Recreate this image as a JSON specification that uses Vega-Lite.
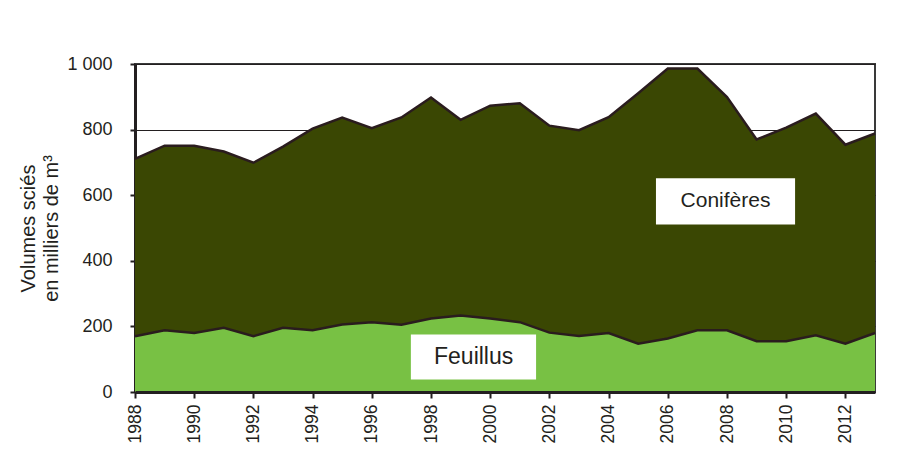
{
  "$schema": "https://vega.github.io/schema/vega-lite/v6.json",
  "width": 740,
  "height": 328,
  "autosize": "none",
  "padding": {"left": 135, "top": 64, "right": 31, "bottom": 84},
  "background": "white",
  "config": {
    "font": "Liberation Sans",
    "view": {"stroke": "#3a3a3a", "strokeWidth": 2}
  },
  "datasets": {
    "volumes": [
      {"year": 1988, "type": "Feuillus", "value": 170}, {"year": 1988, "type": "Conifères", "value": 541},
      {"year": 1989, "type": "Feuillus", "value": 188}, {"year": 1989, "type": "Conifères", "value": 563},
      {"year": 1990, "type": "Feuillus", "value": 180}, {"year": 1990, "type": "Conifères", "value": 571},
      {"year": 1991, "type": "Feuillus", "value": 196}, {"year": 1991, "type": "Conifères", "value": 537},
      {"year": 1992, "type": "Feuillus", "value": 170}, {"year": 1992, "type": "Conifères", "value": 529},
      {"year": 1993, "type": "Feuillus", "value": 196}, {"year": 1993, "type": "Conifères", "value": 552},
      {"year": 1994, "type": "Feuillus", "value": 188}, {"year": 1994, "type": "Conifères", "value": 615},
      {"year": 1995, "type": "Feuillus", "value": 206}, {"year": 1995, "type": "Conifères", "value": 631},
      {"year": 1996, "type": "Feuillus", "value": 213}, {"year": 1996, "type": "Conifères", "value": 591},
      {"year": 1997, "type": "Feuillus", "value": 205}, {"year": 1997, "type": "Conifères", "value": 632},
      {"year": 1998, "type": "Feuillus", "value": 224}, {"year": 1998, "type": "Conifères", "value": 674},
      {"year": 1999, "type": "Feuillus", "value": 233}, {"year": 1999, "type": "Conifères", "value": 597},
      {"year": 2000, "type": "Feuillus", "value": 224}, {"year": 2000, "type": "Conifères", "value": 649},
      {"year": 2001, "type": "Feuillus", "value": 213}, {"year": 2001, "type": "Conifères", "value": 667},
      {"year": 2002, "type": "Feuillus", "value": 181}, {"year": 2002, "type": "Conifères", "value": 631},
      {"year": 2003, "type": "Feuillus", "value": 171}, {"year": 2003, "type": "Conifères", "value": 627},
      {"year": 2004, "type": "Feuillus", "value": 180}, {"year": 2004, "type": "Conifères", "value": 658},
      {"year": 2005, "type": "Feuillus", "value": 147}, {"year": 2005, "type": "Conifères", "value": 764},
      {"year": 2006, "type": "Feuillus", "value": 163}, {"year": 2006, "type": "Conifères", "value": 823},
      {"year": 2007, "type": "Feuillus", "value": 188}, {"year": 2007, "type": "Conifères", "value": 798},
      {"year": 2008, "type": "Feuillus", "value": 188}, {"year": 2008, "type": "Conifères", "value": 711},
      {"year": 2009, "type": "Feuillus", "value": 155}, {"year": 2009, "type": "Conifères", "value": 615},
      {"year": 2010, "type": "Feuillus", "value": 155}, {"year": 2010, "type": "Conifères", "value": 651},
      {"year": 2011, "type": "Feuillus", "value": 173}, {"year": 2011, "type": "Conifères", "value": 676},
      {"year": 2012, "type": "Feuillus", "value": 147}, {"year": 2012, "type": "Conifères", "value": 607},
      {"year": 2013, "type": "Feuillus", "value": 180}, {"year": 2013, "type": "Conifères", "value": 608}
    ],
    "labels": [
      {"label": "Conifères", "x": 2007.95, "y": 582, "x1": 2005.6, "x2": 2010.3, "y1": 511, "y2": 652, "size": 21},
      {"label": "Feuillus", "x": 1999.44, "y": 106, "x1": 1997.32, "x2": 2001.55, "y1": 38, "y2": 175, "size": 23}
    ]
  },
  "layer": [
    {
      "data": {"name": "volumes"},
      "mark": {"type": "area", "opacity": 1},
      "encoding": {
        "x": {
          "field": "year", "type": "quantitative",
          "scale": {"domain": [1988, 2013], "nice": false, "zero": false},
          "axis": {
            "title": null,
            "values": [1988,1989,1990,1991,1992,1993,1994,1995,1996,1997,1998,1999,2000,2001,2002,2003,2004,2005,2006,2007,2008,2009,2010,2011,2012,2013],
            "labelExpr": "datum.value % 2 == 0 ? datum.value + '' : ''",
            "labelAngle": -90,
            "labelFontSize": 17.5,
            "labelColor": "#231f20",
            "labelPadding": 6,
            "labelOverlap": false,
            "labelFlush": false,
            "domainColor": "#231f20",
            "domainWidth": 3,
            "tickColor": "#231f20",
            "tickWidth": 2,
            "tickSize": 6,
            "grid": false,
            "zindex": 1
          }
        },
        "y": {
          "field": "value", "type": "quantitative", "stack": "zero",
          "scale": {"domain": [0, 1000], "nice": false},
          "axis": {
            "title": ["Volumes sciés", "en milliers de m³"],
            "titleFontSize": 20,
            "titleFontWeight": "normal",
            "titleColor": "#231f20",
            "titleLineHeight": 23,
            "titlePadding": 5,
            "values": [0, 200, 400, 600, 800, 1000],
            "labelExpr": "replace(format(datum.value, ','), ',', ' ')",
            "labelFontSize": 18,
            "labelColor": "#231f20",
            "labelPadding": 18,
            "domainColor": "#231f20",
            "domainWidth": 3,
            "tickColor": "#231f20",
            "tickWidth": 2,
            "tickSize": 5,
            "grid": true,
            "gridColor": "#231f20",
            "gridWidth": 1.2,
            "gridOpacity": 1
          }
        },
        "color": {
          "field": "type", "type": "nominal",
          "scale": {"domain": ["Feuillus", "Conifères"], "range": ["#78c144", "#3a4703"]},
          "legend": null
        },
        "order": {"field": "type", "sort": "descending"}
      }
    },
    {
      "data": {"name": "volumes"},
      "mark": {"type": "line", "color": "#2a1c1e", "strokeWidth": 2.5, "strokeJoin": "miter"},
      "encoding": {
        "x": {"field": "year", "type": "quantitative"},
        "y": {"field": "value", "type": "quantitative", "stack": "zero"},
        "detail": {"field": "type", "type": "nominal"},
        "order": {"field": "type", "sort": "descending"}
      }
    },
    {
      "data": {"name": "labels"},
      "mark": {"type": "rect", "color": "white"},
      "encoding": {
        "x": {"field": "x1", "type": "quantitative"},
        "x2": {"field": "x2"},
        "y": {"field": "y1", "type": "quantitative"},
        "y2": {"field": "y2"}
      }
    },
    {
      "data": {"name": "labels"},
      "mark": {"type": "text", "color": "#231f20", "align": "center", "baseline": "middle"},
      "encoding": {
        "x": {"field": "x", "type": "quantitative"},
        "y": {"field": "y", "type": "quantitative"},
        "text": {"field": "label"},
        "size": {"field": "size", "type": "quantitative", "scale": null}
      }
    }
  ]
}
